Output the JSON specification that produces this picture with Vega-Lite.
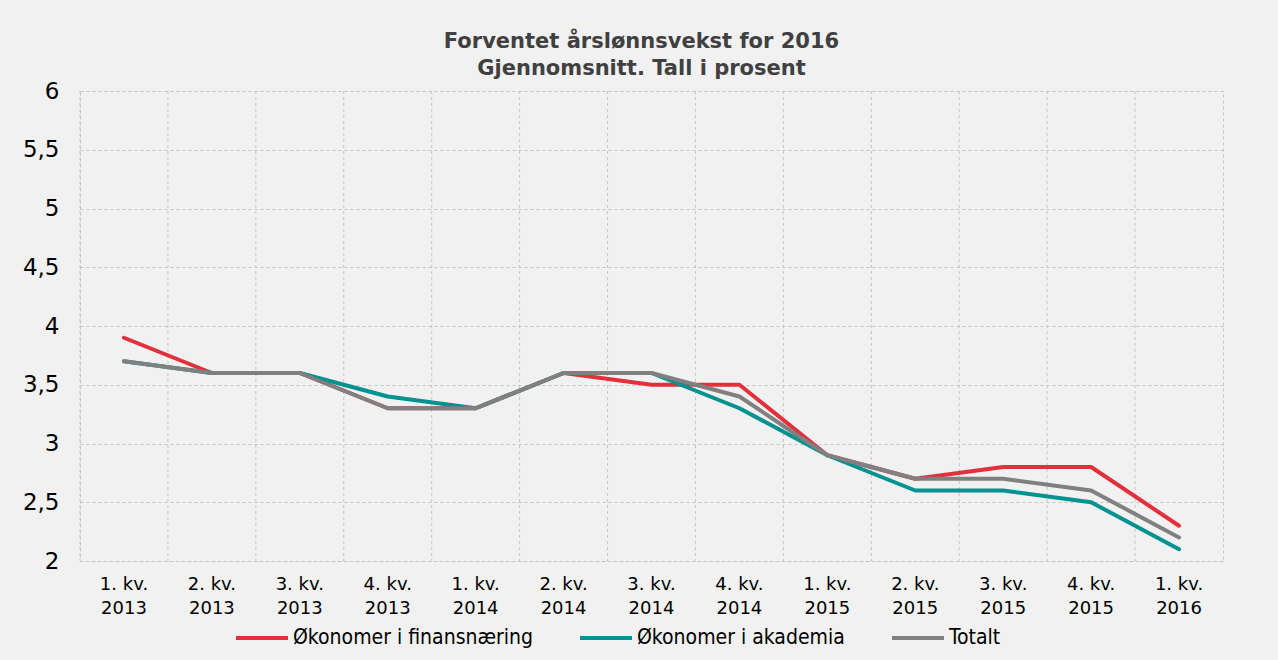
{
  "$schema": "https://vega.github.io/schema/vega-lite/v6.json",
  "autosize": {"type": "none"},
  "width": 1143,
  "height": 470,
  "padding": {"left": 80, "top": 91, "right": 55, "bottom": 99},
  "background": "#f1f1f1",
  "title": {
    "text": ["Forventet årslønnsvekst for 2016", "Gjennomsnitt. Tall i prosent"],
    "font": "DejaVu Sans",
    "fontSize": 21,
    "fontWeight": "bold",
    "color": "#404040",
    "lineHeight": 27,
    "anchor": "middle",
    "frame": "group",
    "dx": -10,
    "offset": 1
  },
  "data": {
    "values": [
      {"kvartal": "1. kv. 2013", "serie": "Økonomer i finansnæring", "verdi": 3.9},
      {"kvartal": "2. kv. 2013", "serie": "Økonomer i finansnæring", "verdi": 3.6},
      {"kvartal": "3. kv. 2013", "serie": "Økonomer i finansnæring", "verdi": 3.6},
      {"kvartal": "4. kv. 2013", "serie": "Økonomer i finansnæring", "verdi": 3.3},
      {"kvartal": "1. kv. 2014", "serie": "Økonomer i finansnæring", "verdi": 3.3},
      {"kvartal": "2. kv. 2014", "serie": "Økonomer i finansnæring", "verdi": 3.6},
      {"kvartal": "3. kv. 2014", "serie": "Økonomer i finansnæring", "verdi": 3.5},
      {"kvartal": "4. kv. 2014", "serie": "Økonomer i finansnæring", "verdi": 3.5},
      {"kvartal": "1. kv. 2015", "serie": "Økonomer i finansnæring", "verdi": 2.9},
      {"kvartal": "2. kv. 2015", "serie": "Økonomer i finansnæring", "verdi": 2.7},
      {"kvartal": "3. kv. 2015", "serie": "Økonomer i finansnæring", "verdi": 2.8},
      {"kvartal": "4. kv. 2015", "serie": "Økonomer i finansnæring", "verdi": 2.8},
      {"kvartal": "1. kv. 2016", "serie": "Økonomer i finansnæring", "verdi": 2.3},
      {"kvartal": "1. kv. 2013", "serie": "Økonomer i akademia", "verdi": 3.7},
      {"kvartal": "2. kv. 2013", "serie": "Økonomer i akademia", "verdi": 3.6},
      {"kvartal": "3. kv. 2013", "serie": "Økonomer i akademia", "verdi": 3.6},
      {"kvartal": "4. kv. 2013", "serie": "Økonomer i akademia", "verdi": 3.4},
      {"kvartal": "1. kv. 2014", "serie": "Økonomer i akademia", "verdi": 3.3},
      {"kvartal": "2. kv. 2014", "serie": "Økonomer i akademia", "verdi": 3.6},
      {"kvartal": "3. kv. 2014", "serie": "Økonomer i akademia", "verdi": 3.6},
      {"kvartal": "4. kv. 2014", "serie": "Økonomer i akademia", "verdi": 3.3},
      {"kvartal": "1. kv. 2015", "serie": "Økonomer i akademia", "verdi": 2.9},
      {"kvartal": "2. kv. 2015", "serie": "Økonomer i akademia", "verdi": 2.6},
      {"kvartal": "3. kv. 2015", "serie": "Økonomer i akademia", "verdi": 2.6},
      {"kvartal": "4. kv. 2015", "serie": "Økonomer i akademia", "verdi": 2.5},
      {"kvartal": "1. kv. 2016", "serie": "Økonomer i akademia", "verdi": 2.1},
      {"kvartal": "1. kv. 2013", "serie": "Totalt", "verdi": 3.7},
      {"kvartal": "2. kv. 2013", "serie": "Totalt", "verdi": 3.6},
      {"kvartal": "3. kv. 2013", "serie": "Totalt", "verdi": 3.6},
      {"kvartal": "4. kv. 2013", "serie": "Totalt", "verdi": 3.3},
      {"kvartal": "1. kv. 2014", "serie": "Totalt", "verdi": 3.3},
      {"kvartal": "2. kv. 2014", "serie": "Totalt", "verdi": 3.6},
      {"kvartal": "3. kv. 2014", "serie": "Totalt", "verdi": 3.6},
      {"kvartal": "4. kv. 2014", "serie": "Totalt", "verdi": 3.4},
      {"kvartal": "1. kv. 2015", "serie": "Totalt", "verdi": 2.9},
      {"kvartal": "2. kv. 2015", "serie": "Totalt", "verdi": 2.7},
      {"kvartal": "3. kv. 2015", "serie": "Totalt", "verdi": 2.7},
      {"kvartal": "4. kv. 2015", "serie": "Totalt", "verdi": 2.6},
      {"kvartal": "1. kv. 2016", "serie": "Totalt", "verdi": 2.2}
    ]
  },
  "encoding": {
    "x": {
      "field": "kvartal",
      "type": "nominal",
      "sort": null,
      "scale": {"paddingInner": 0, "paddingOuter": 0},
      "axis": {
        "title": null,
        "labelAngle": 0,
        "labelExpr": "[slice(datum.value, 0, 6), slice(datum.value, 7)]",
        "labelFont": "DejaVu Sans",
        "labelFontSize": 18,
        "labelLineHeight": 24,
        "labelColor": "#000000",
        "labelPadding": 14,
        "ticks": false,
        "domain": false,
        "grid": false
      }
    }
  },
  "layer": [
    {
      "transform": [{"filter": "datum.serie === 'Totalt'"}],
      "mark": {"type": "rule", "color": "#c4c4c4", "strokeDash": [3, 3], "strokeWidth": 1},
      "encoding": {
        "x": {"field": "kvartal", "type": "nominal", "sort": null, "bandPosition": 0}
      }
    },
    {
      "mark": {"type": "line", "strokeWidth": 4, "strokeCap": "round", "strokeJoin": "round"},
      "encoding": {
        "y": {
          "field": "verdi",
          "type": "quantitative",
          "scale": {"domain": [2, 6], "nice": false, "zero": false},
          "axis": {
            "title": null,
            "values": [2, 2.5, 3, 3.5, 4, 4.5, 5, 5.5, 6],
            "labelExpr": "replace(format(datum.value, '~g'), '.', ',')",
            "labelFont": "DejaVu Sans",
            "labelFontSize": 23,
            "labelColor": "#000000",
            "labelPadding": 21,
            "ticks": false,
            "domain": false,
            "grid": true,
            "gridColor": "#c4c4c4",
            "gridDash": [3, 3],
            "gridWidth": 1
          }
        },
        "color": {
          "field": "serie",
          "type": "nominal",
          "sort": null,
          "scale": {
            "domain": ["Økonomer i finansnæring", "Økonomer i akademia", "Totalt"],
            "range": ["#e3303c", "#009290", "#808080"]
          },
          "legend": {
            "title": null,
            "orient": "none",
            "direction": "horizontal",
            "legendX": 154,
            "legendY": 519,
            "symbolType": "stroke",
            "symbolSize": 2704,
            "symbolStrokeWidth": 4,
            "labelFont": "DejaVu Sans Condensed",
            "labelFontSize": 21,
            "labelLimit": 400,
            "labelColor": "#000000",
            "labelOffset": 3,
            "columnPadding": 39
          }
        }
      }
    }
  ],
  "config": {"view": {"stroke": "#c4c4c4", "strokeDash": [3, 3], "strokeWidth": 1}}
}
